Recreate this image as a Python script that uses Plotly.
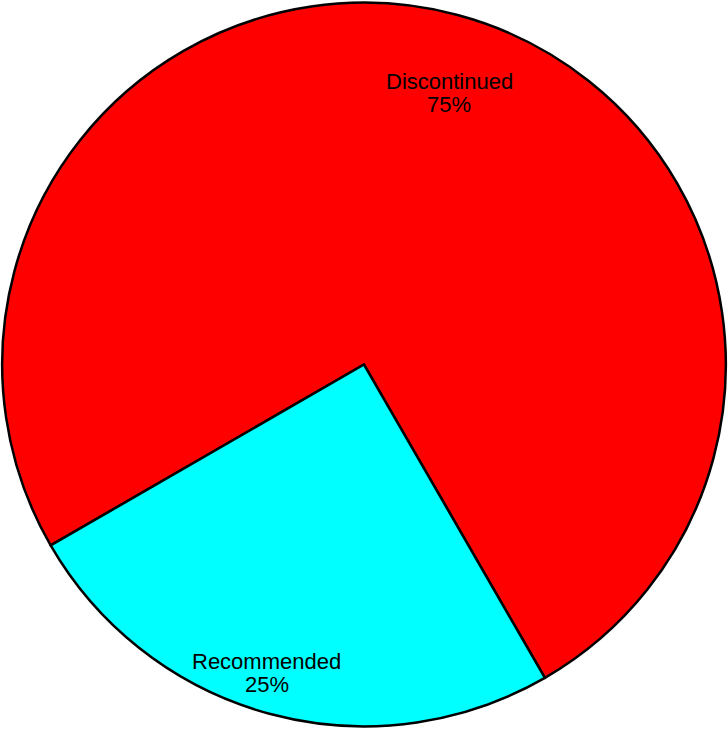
import math

import plotly.graph_objects as go

LABELS = ["Discontinued", "Recommended"]
VALUES = [75, 25]
COLORS = ["#ff0000", "#00ffff"]

WIDTH, HEIGHT = 728, 729
ROTATION = 240
RADIUS_PX = 362
LABEL_RADIUS = [0.785, 0.895]
LABEL_TURN = 2.5
LINE_GAP = 11.5
FONT = dict(family="Arial, Liberation Sans, sans-serif", size=22, color="#000000")

fig = go.Figure(
    go.Pie(
        labels=LABELS,
        values=VALUES,
        marker=dict(colors=COLORS, line=dict(color="#000000", width=2.5)),
        textinfo="none",
        rotation=ROTATION,
        direction="clockwise",
        sort=False,
        showlegend=False,
        domain=dict(x=[0.003, 0.997], y=[0.003, 0.997]),
    )
)

# slice labels sit near the rim, like the original
total = sum(VALUES)
start = ROTATION
for label, value, rf in zip(LABELS, VALUES, LABEL_RADIUS):
    span = 360 * value / total
    theta = math.radians(start + span / 2 + LABEL_TURN)
    start += span
    x = 0.5 + rf * RADIUS_PX * math.sin(theta) / WIDTH
    y = 0.5 + rf * RADIUS_PX * math.cos(theta) / HEIGHT
    pct = f"{round(100 * value / total)}%"
    for text, shift in ((label, LINE_GAP), (pct, -LINE_GAP)):
        fig.add_annotation(
            x=x, y=y, xref="paper", yref="paper", text=text, showarrow=False,
            yshift=shift, font=FONT, xanchor="center", yanchor="middle",
        )

fig.update_layout(
    width=WIDTH,
    height=HEIGHT,
    margin=dict(l=0, r=0, t=0, b=0),
    paper_bgcolor="white",
    plot_bgcolor="white",
)
fig.write_html(
    "out.html",
    config={"displayModeBar": False},
    post_script="document.body.style.margin='0';",
)
